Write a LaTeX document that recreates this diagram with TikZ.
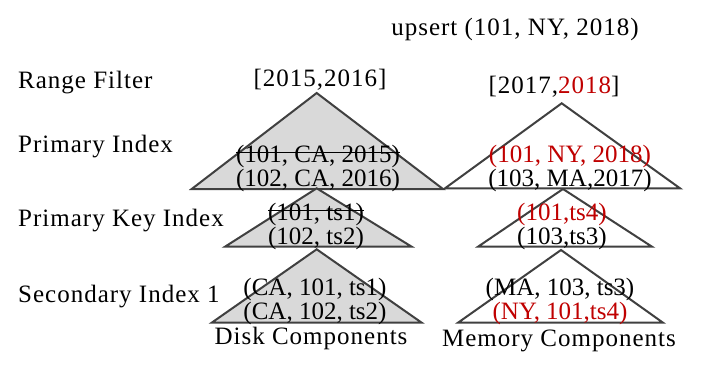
\documentclass[tikz,border=0pt]{standalone}
\usepackage{fontspec}
\setmainfont{Liberation Serif}
\newfontfamily\widefont[LetterSpace=4]{Liberation Serif}
\usetikzlibrary{positioning}
\definecolor{upd}{RGB}{192,0,0}
\definecolor{diskfill}{RGB}{217,217,217}
\definecolor{edge}{RGB}{64,64,64}
\newsavebox\strkbox
\newcommand{\strk}[1]{\sbox\strkbox{#1}\rlap{\usebox\strkbox}\rule[0.38em]{\wd\strkbox}{1.3pt}}

\begin{document}
\begin{tikzpicture}[x=1pt,y=-1pt,txt/.style={font=\fontsize{25}{21}\selectfont,inner sep=0pt,anchor=base,align=center},head/.style={txt,font=\widefont\fontsize{25}{21}\selectfont},lbl/.style={head,anchor=base west},disk/.style={draw=edge,line width=2pt,fill=diskfill},mem/.style={draw=edge,line width=2pt,fill=white}]
\useasboundingbox (0,0) rectangle (706,370);
\node[head] (upsert) at (515,35) {upsert (101, NY, 2018)};
\node[lbl] (rf) at (18,88) {Range Filter};
\node[lbl] (pi) at (18,152) {Primary Index};
\node[lbl] (pki) at (18,226) {Primary Key Index};
\node[lbl] (si) at (18,302) {Secondary Index 1};
\node[head] (rfdisk) at (320,86) {[2015,2016]};
\node[head] (rfmem) at (554,93) {[2017,\textcolor{upd}{2018}]};
% disk side
\draw[disk] (191.7,189) -- (316.7,93) -- (443,189) -- cycle;
\node[txt] (pidisk) at (318,186) {\strk{(101, CA, 2015)}\\(102, CA, 2016)};
\draw[disk] (225,246.7) -- (316.7,188.3) -- (411.7,246.7) -- cycle;
\node[txt] (pkdisk) at (316,244) {\strk{(101, ts1)}\\(102, ts2)};
\draw[disk] (211.7,322.7) -- (316.7,249.3) -- (421.7,322.7) -- cycle;
\node[txt] (sidisk) at (315,319) {(CA, 101, ts1)\\(CA, 102, ts2)};
\node[head] (disk) at (311,344) {Disk Components};
% memory side
\draw[mem] (445,188.3) -- (561.7,103.3) -- (680,188.3) -- cycle;
\node[txt] (pimem) at (570,186) {\textcolor{upd}{(101, NY, 2018)}\\(103, MA,2017)};
\draw[mem] (478,246.7) -- (563,189) -- (652,246.7) -- cycle;
\node[txt] (pkmem) at (562,244) {\textcolor{upd}{(101,ts4)}\\(103,ts3)};
\draw[mem] (458,322.7) -- (561,250) -- (663,322.7) -- cycle;
\node[txt] (simem) at (560,319) {(MA, 103, ts3)\\\textcolor{upd}{(NY, 101,ts4)}};
\node[head] (mem) at (559,346) {Memory Components};
\end{tikzpicture}
\end{document}
